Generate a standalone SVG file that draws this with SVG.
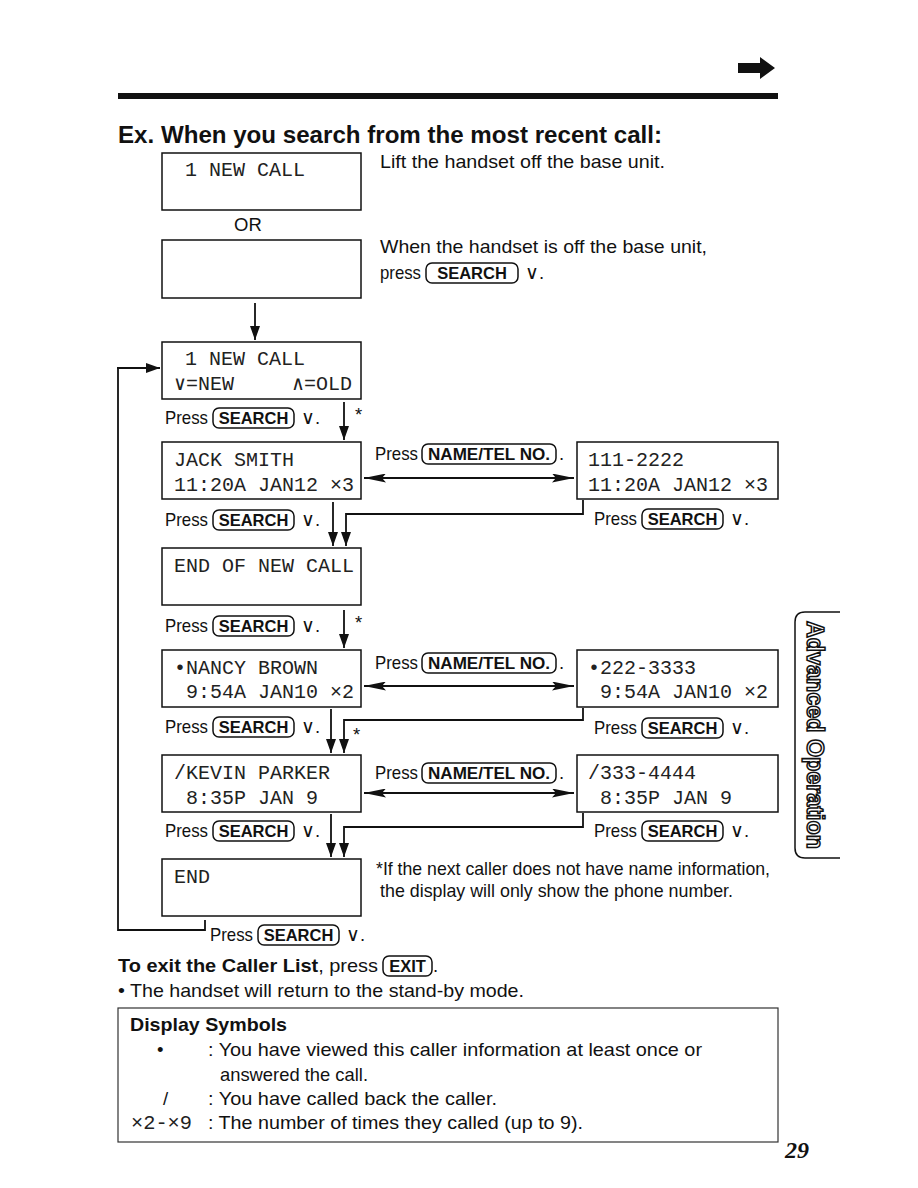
<svg xmlns="http://www.w3.org/2000/svg" width="918" height="1188" viewBox="0 0 918 1188">
<style>
.t{font-family:"Liberation Sans",Arial,sans-serif;font-size:18.5px;fill:#111}
.b{font-family:"Liberation Sans",Arial,sans-serif;font-weight:bold;fill:#111}
.lcd{font-family:"Liberation Mono","DejaVu Sans Mono",monospace;font-size:20px;fill:#222}
.box{fill:#fff;stroke:#111;stroke-width:1.5}
.key{fill:none;stroke:#111;stroke-width:1.5}
.kt{font-family:"Liberation Sans",Arial,sans-serif;font-weight:bold;font-size:16.5px;fill:#111;text-anchor:middle}
.ln{fill:none;stroke:#111;stroke-width:1.8}
.dn{fill:none;stroke:#111;stroke-width:1.8;marker-end:url(#ah)}
.dbl{fill:none;stroke:#111;stroke-width:1.8;marker-start:url(#lh);marker-end:url(#lh)}
</style>
<defs>
<marker id="ah" markerUnits="userSpaceOnUse" viewBox="0 0 14 10" refX="14" refY="5" markerWidth="14" markerHeight="10" orient="auto"><path d="M0,0 L14,5 L0,10 Z" fill="#111"/></marker>
<marker id="lh" markerUnits="userSpaceOnUse" viewBox="0 0 22 9" refX="22" refY="4.5" markerWidth="22" markerHeight="9" orient="auto-start-reverse"><path d="M0,0 L22,4.5 L0,9 L4,4.5 Z" fill="#111"/></marker>
</defs>
<rect width="918" height="1188" fill="#fff"/>

<g id="header">
<path d="M738,63 H760 V57 L775,68 L760,79 V73 H738 Z" fill="#111"/>
<rect x="118" y="93" width="660" height="6" fill="#111"/>
<text class="b" x="118" y="143" font-size="23.5" textLength="544" lengthAdjust="spacingAndGlyphs">Ex. When you search from the most recent call:</text>
</g>

<g id="box1">
<rect class="box" x="162" y="153" width="199" height="57"/>
<text class="lcd" x="185" y="176">1 NEW CALL</text>
</g>
<text class="t" x="380" y="168" textLength="285" lengthAdjust="spacingAndGlyphs">Lift the handset off the base unit.</text>
<text class="t" x="234" y="231" font-size="19">OR</text>

<g id="box2">
<rect class="box" x="162" y="240" width="199" height="58"/>
</g>
<g id="note2">
<text class="t" x="380" y="253" textLength="327" lengthAdjust="spacingAndGlyphs">When the handset is off the base unit,</text>
<text class="t" x="380" y="279" textLength="41" lengthAdjust="spacingAndGlyphs">press</text>
<rect class="key" x="426" y="263" width="92" height="20" rx="6"/>
<text class="kt" x="472" y="279">SEARCH</text>
<text class="t" x="525" y="279">∨.</text>
</g>

<g id="box3">
<rect class="box" x="162" y="342" width="199" height="57"/>
<text class="lcd" x="185" y="365">1 NEW CALL</text>
<text class="lcd" x="174" y="390">∨=NEW</text>
<text class="lcd" x="292" y="390">∧=OLD</text>
</g>

<g id="box4">
<rect class="box" x="162" y="442" width="199" height="57"/>
<text class="lcd" x="174" y="466">JACK SMITH</text>
<text class="lcd" x="174" y="491">11:20A JAN12 ×3</text>
</g>
<g id="box4r">
<rect class="box" x="577" y="442" width="201" height="57"/>
<text class="lcd" x="588" y="466">111-2222</text>
<text class="lcd" x="588" y="491">11:20A JAN12 ×3</text>
</g>

<g id="box5">
<rect class="box" x="162" y="548" width="199" height="57"/>
<text class="lcd" x="174" y="572">END OF NEW CALL</text>
</g>

<g id="box6">
<rect class="box" x="162" y="650" width="199" height="57"/>
<text class="lcd" x="174" y="674">•NANCY BROWN</text>
<text class="lcd" x="186" y="698">9:54A JAN10 ×2</text>
</g>
<g id="box6r">
<rect class="box" x="577" y="650" width="201" height="57"/>
<text class="lcd" x="588" y="674">•222-3333</text>
<text class="lcd" x="600" y="698">9:54A JAN10 ×2</text>
</g>

<g id="box7">
<rect class="box" x="162" y="755" width="199" height="57"/>
<text class="lcd" x="174" y="779">/KEVIN PARKER</text>
<text class="lcd" x="186" y="804">8:35P JAN 9</text>
</g>
<g id="box7r">
<rect class="box" x="577" y="755" width="201" height="57"/>
<text class="lcd" x="588" y="779">/333-4444</text>
<text class="lcd" x="600" y="804">8:35P JAN 9</text>
</g>

<g id="box8">
<rect class="box" x="162" y="859" width="199" height="57"/>
<text class="lcd" x="174" y="883">END</text>
</g>

<g id="labels">
<g id="ps1"><text class="t" x="165" y="424" textLength="43" lengthAdjust="spacingAndGlyphs">Press</text><rect class="key" x="213" y="408" width="81" height="20" rx="6"/><text class="kt" x="253.5" y="424">SEARCH</text><text class="t" x="301" y="424">∨.</text></g>
<g id="ps2"><text class="t" x="165" y="526" textLength="43" lengthAdjust="spacingAndGlyphs">Press</text><rect class="key" x="213" y="510" width="81" height="20" rx="6"/><text class="kt" x="253.5" y="526">SEARCH</text><text class="t" x="301" y="526">∨.</text></g>
<g id="ps3"><text class="t" x="165" y="632" textLength="43" lengthAdjust="spacingAndGlyphs">Press</text><rect class="key" x="213" y="616" width="81" height="20" rx="6"/><text class="kt" x="253.5" y="632">SEARCH</text><text class="t" x="301" y="632">∨.</text></g>
<g id="ps4"><text class="t" x="165" y="733" textLength="43" lengthAdjust="spacingAndGlyphs">Press</text><rect class="key" x="213" y="717" width="81" height="20" rx="6"/><text class="kt" x="253.5" y="733">SEARCH</text><text class="t" x="301" y="733">∨.</text></g>
<g id="ps5"><text class="t" x="165" y="837" textLength="43" lengthAdjust="spacingAndGlyphs">Press</text><rect class="key" x="213" y="821" width="81" height="20" rx="6"/><text class="kt" x="253.5" y="837">SEARCH</text><text class="t" x="301" y="837">∨.</text></g>
<g id="ps6"><text class="t" x="210" y="941" textLength="43" lengthAdjust="spacingAndGlyphs">Press</text><rect class="key" x="258" y="925" width="81" height="20" rx="6"/><text class="kt" x="298.5" y="941">SEARCH</text><text class="t" x="346" y="941">∨.</text></g>
<g id="pr1"><text class="t" x="594" y="525" textLength="43" lengthAdjust="spacingAndGlyphs">Press</text><rect class="key" x="642" y="509" width="81" height="20" rx="6"/><text class="kt" x="682.5" y="525">SEARCH</text><text class="t" x="730" y="525">∨.</text></g>
<g id="pr2"><text class="t" x="594" y="734" textLength="43" lengthAdjust="spacingAndGlyphs">Press</text><rect class="key" x="642" y="718" width="81" height="20" rx="6"/><text class="kt" x="682.5" y="734">SEARCH</text><text class="t" x="730" y="734">∨.</text></g>
<g id="pr3"><text class="t" x="594" y="837" textLength="43" lengthAdjust="spacingAndGlyphs">Press</text><rect class="key" x="642" y="821" width="81" height="20" rx="6"/><text class="kt" x="682.5" y="837">SEARCH</text><text class="t" x="730" y="837">∨.</text></g>
<g id="pn1"><text class="t" x="375" y="460" textLength="43" lengthAdjust="spacingAndGlyphs">Press</text><rect class="key" x="422" y="444" width="134" height="20" rx="6"/><text class="kt" x="489" y="460" textLength="122" lengthAdjust="spacingAndGlyphs">NAME/TEL NO.</text><text class="t" x="559" y="460">.</text></g>
<g id="pn2"><text class="t" x="375" y="669" textLength="43" lengthAdjust="spacingAndGlyphs">Press</text><rect class="key" x="422" y="653" width="134" height="20" rx="6"/><text class="kt" x="489" y="669" textLength="122" lengthAdjust="spacingAndGlyphs">NAME/TEL NO.</text><text class="t" x="559" y="669">.</text></g>
<g id="pn3"><text class="t" x="375" y="779" textLength="43" lengthAdjust="spacingAndGlyphs">Press</text><rect class="key" x="422" y="763" width="134" height="20" rx="6"/><text class="kt" x="489" y="779" textLength="122" lengthAdjust="spacingAndGlyphs">NAME/TEL NO.</text><text class="t" x="559" y="779">.</text></g>
<text class="t" x="355" y="421" font-size="12">*</text>
<text class="t" x="355" y="629" font-size="12">*</text>
<text class="t" x="353" y="741" font-size="12">*</text>
<text class="t" x="376" y="875" font-size="15.5" textLength="394" lengthAdjust="spacingAndGlyphs">*If the next caller does not have name information,</text>
<text class="t" x="380" y="897" font-size="15.5" textLength="353" lengthAdjust="spacingAndGlyphs">the display will only show the phone number.</text>
</g>

<g id="connectors">
<path class="dn" d="M255,303 V340"/>
<path class="dn" d="M344,402 V440"/>
<path class="dbl" d="M364,478 H574"/>
<path class="dn" d="M333,502 V546"/>
<path class="dn" d="M583,500 V514 H346 V546"/>
<path class="dn" d="M344,610 V648"/>
<path class="dbl" d="M364,686 H574"/>
<path class="dn" d="M331,709 V753"/>
<path class="dn" d="M583,708 V720 H344 V753"/>
<path class="dbl" d="M364,793 H574"/>
<path class="dn" d="M331,814 V857"/>
<path class="dn" d="M583,813 V827 H344 V857"/>
<path class="ln" d="M205,920 V930 H118 V368"/>
<path class="dn" d="M117,368 H160"/>
</g>

<g id="exit">
<text class="t" x="118" y="972" textLength="260" lengthAdjust="spacingAndGlyphs"><tspan font-weight="bold">To exit the Caller List</tspan>, press</text>
<rect class="key" x="383" y="956" width="49" height="20" rx="6"/>
<text class="kt" x="407.5" y="972">EXIT</text>
<text class="t" x="433" y="972">.</text>
<text class="t" x="118" y="997" textLength="406" lengthAdjust="spacingAndGlyphs">• The handset will return to the stand-by mode.</text>
</g>

<g id="symbols">
<rect x="118" y="1008" width="660" height="134" fill="none" stroke="#333" stroke-width="1.2"/>
<text class="b" x="130" y="1031" font-size="18.5" textLength="157" lengthAdjust="spacingAndGlyphs">Display Symbols</text>
<text class="t" x="157" y="1056">•</text>
<text class="t" x="208" y="1056" textLength="494" lengthAdjust="spacingAndGlyphs">: You have viewed this caller information at least once or</text>
<text class="t" x="220" y="1081" textLength="148" lengthAdjust="spacingAndGlyphs">answered the call.</text>
<text class="t" x="163" y="1105">/</text>
<text class="t" x="208" y="1105" textLength="289" lengthAdjust="spacingAndGlyphs">: You have called back the caller.</text>
<text class="lcd" x="131" y="1129" font-size="17" textLength="61" lengthAdjust="spacingAndGlyphs">×2-×9</text>
<text class="t" x="208" y="1129" textLength="375" lengthAdjust="spacingAndGlyphs">: The number of times they called (up to 9).</text>
</g>

<g id="sidetab">
<path d="M840,612 H805 Q795,612 795,622 V848 Q795,858 805,858 H840" fill="none" stroke="#111" stroke-width="1.5"/>
<text transform="translate(807,735) rotate(90)" text-anchor="middle" font-family="'Liberation Sans',Arial,sans-serif" font-weight="bold" font-size="23" fill="#fff" stroke="#111" stroke-width="1.5" textLength="228" lengthAdjust="spacingAndGlyphs">Advanced Operation</text>
</g>

<text x="785" y="1158" font-family="'Liberation Serif','Times New Roman',serif" font-weight="bold" font-style="italic" font-size="24" fill="#111">29</text>
</svg>
